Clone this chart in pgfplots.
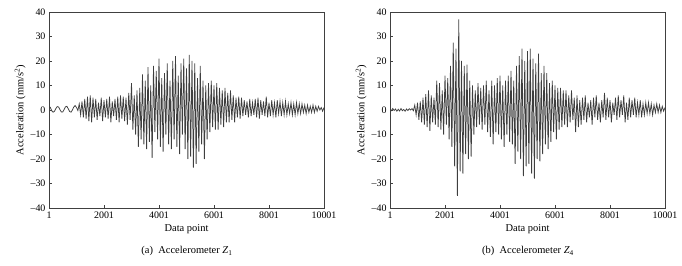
\documentclass[border=0pt]{standalone}
\usepackage{pgfplots}
\pgfplotsset{compat=1.18}
\usepackage{fontspec}
\setmainfont{Liberation Serif}
\definecolor{sig}{RGB}{62,62,62}
\begin{document}
\begin{tikzpicture}
\useasboundingbox (0bp,0bp) rectangle (682bp,266bp);
\pgfplotsset{
  myax/.style={
    scale only axis, width=275bp, height=196bp,
    xmin=1, xmax=10001, ymin=-40, ymax=40,
    xtick={1,2001,4001,6001,8001,10001},
    xticklabels={1,2001,4001,6001,8001,10001},
    scaled x ticks=false,
    ytick={-40,-30,-20,-10,0,10,20,30,40},
    yticklabels={--40,--30,--20,--10,0,10,20,30,40},
    tick align=inside, tick pos=left,
    major tick length=3bp,
    axis line style={black!75, line width=0.6pt},
    tick style={black!75, line width=0.5pt},
    tick label style={font=\fontsize{10}{12}\selectfont},
    label style={font=\fontsize{10.5}{12}\selectfont},
    xlabel={Data point},
    ylabel={Acceleration (mm/s\textsuperscript{2})},
    xlabel style={yshift=1bp},
    ylabel style={yshift=-2bp},
    clip=true,
  }
}
\begin{axis}[myax, at={(49bp,58bp)}, anchor=south west]
\addplot[sig, line width=0.75pt] coordinates {
(1,1.5)(51,1.0)(101,-0.3)(151,-0.9)(201,-0.5)(251,0.6)(301,1.4)(351,1.2)(401,0.1)(451,-0.8)(501,-0.8)(551,0.2)(601,1.3)(651,1.5)(701,0.5)(751,-0.6)(801,-0.9)(851,0.0)(901,1.2)(951,1.8)(1001,1.0)(1051,-0.2)
(1101,2.5)(1151,-2)(1201,3.5)(1251,-3)(1301,4.5)(1351,-3.5)(1401,5.5)(1451,-4.5)(1501,6)(1551,-5)
(1601,5)(1651,-3)(1701,4.5)(1751,-4)(1801,3)(1851,-2.5)(1901,5)(1951,-4.5)(2001,4)(2051,-3)
(2101,4.5)(2151,-3.5)(2201,5.5)(2251,-5)(2301,3.5)(2351,-2.5)(2401,4.5)(2451,-4)(2501,5.5)(2551,-5)
(2601,6)(2651,-3.5)(2701,5.5)(2751,-4.5)(2801,5)(2851,-6)(2901,7)(2951,-4)(3001,11)(3051,-8)
(3101,6)(3151,-10)(3201,8)(3251,-15)(3301,9)(3351,-12)(3401,14.5)(3451,-14)(3501,12)(3551,-16)
(3601,17.5)(3651,-13)(3701,10)(3751,-19.5)(3801,18)(3851,-9)(3901,16)(3951,-12)(4001,21)(4051,-15)
(4101,13)(4151,-17)(4201,15)(4251,-10)(4301,19)(4351,-14)(4401,12)(4451,-16)(4501,20)(4551,-12)
(4601,22)(4651,-15)(4701,14)(4751,-18)(4801,19)(4851,-10)(4901,21)(4951,-16)(5001,17)(5051,-20)
(5101,22.5)(5151,-19)(5201,20)(5251,-23.5)(5301,19)(5351,-22)(5401,13)(5451,-17)(5501,18)(5551,-14)
(5601,12)(5651,-20)(5701,10)(5751,-12)(5801,11)(5851,-9)(5901,12)(5951,-7)(6001,10)(6051,-8)
(6101,11)(6151,-8)(6201,9)(6251,-6)(6301,8)(6351,-7)(6401,9)(6451,-5)(6501,7)(6551,-5)
(6601,8)(6651,-4)(6701,6)(6751,-5)(6801,5)(6851,-3)(6901,5.5)(6951,-3.5)(7001,5)(7051,-2.5)
(7101,4)(7151,-2)(7201,3.5)(7251,-3)(7301,4.5)(7351,-2.5)(7401,3)(7451,-2)(7501,4.5)(7551,-3)
(7601,5)(7651,-3.5)(7701,4)(7751,-2)(7801,3.5)(7851,-2.5)(7901,5.5)(7951,-3)(8001,3)(8051,-2.5)
(8101,4)(8151,-2)(8201,3)(8251,-3)(8301,4)(8351,-1.5)(8401,3.5)(8451,-2.5)(8501,3)(8551,-2)
(8601,3.5)(8651,-2)(8701,2.5)(8751,-1.5)(8801,3)(8851,-2)(8901,2.5)(8951,-2)(9001,3)(9051,-1.5)
(9101,2.5)(9151,-1.5)(9201,2.5)(9251,-1)(9301,2)(9351,-1.5)(9401,2)(9451,-1)(9501,1.5)(9551,-1)
(9601,2)(9651,-1)(9701,1.5)(9751,-0.5)(9801,1.5)(9851,0)(9901,1)(9951,-0.5)(10001,1)
};
\end{axis}
\begin{axis}[myax, at={(390bp,58bp)}, anchor=south west]
\addplot[sig, line width=0.75pt] coordinates {
(1,0.5)(51,-0.3)(101,0.6)(151,-0.2)(201,0.4)(251,-0.5)(301,0.3)(351,-0.4)(401,0.6)(451,-0.3)(501,0.2)(551,-0.5)(601,0.4)(651,-0.2)(701,0.5)(751,0.0)(801,0.6)(851,-0.3)
(901,2)(951,-2)(1001,3)(1051,-4)(1101,3.5)(1151,-5)(1201,5)(1251,-6)(1301,6.5)(1351,-7)
(1401,8)(1451,-8.5)(1501,6)(1551,-5)(1601,5)(1651,-6)(1701,12)(1751,-7)(1801,11)(1851,-8)
(1901,8)(1951,-10)(2001,14)(2051,-6)(2101,13)(2151,-12)(2201,18)(2251,-15)(2301,27.5)(2351,-23)
(2401,25)(2451,-35)(2501,37)(2551,-25)(2601,20)(2651,-26)(2701,18)(2751,-18)(2801,18.5)(2851,-20)
(2901,12)(2951,-19)(3001,10)(3051,-10)(3101,8)(3151,-7)(3201,11)(3251,-6)(3301,9)(3351,-8)
(3401,10)(3451,-6)(3501,12)(3551,-9)(3601,8)(3651,-11)(3701,12)(3751,-14)(3801,10)(3851,-9)
(3901,13)(3951,-10)(4001,14)(4051,-12)(4101,10)(4151,-15)(4201,12)(4251,-10)(4301,14)(4351,-13)
(4401,16)(4451,-14)(4501,12)(4551,-22)(4601,18)(4651,-17)(4701,22)(4751,-20)(4801,25)(4851,-27)
(4901,20)(4951,-23)(5001,24)(5051,-22)(5101,25)(5151,-26)(5201,21)(5251,-28)(5301,19)(5351,-20)
(5401,23)(5451,-21)(5501,15)(5551,-18)(5601,18)(5651,-14)(5701,15)(5751,-16)(5801,11)(5851,-13)
(5901,12)(5951,-9)(6001,10)(6051,-12)(6101,9)(6151,-8)(6201,9)(6251,-7)(6301,8)(6351,-6)
(6401,8)(6451,-7)(6501,6)(6551,-5)(6601,8)(6651,-4)(6701,5)(6751,-9)(6801,6)(6851,-7)
(6901,4)(6951,-6)(7001,5)(7051,-4)(7101,6)(7151,-5)(7201,3)(7251,-3)(7301,4)(7351,-6)
(7401,5)(7451,-3)(7501,6)(7551,-4)(7601,3)(7651,-5)(7701,4)(7751,-3)(7801,7)(7851,-4)
(7901,5)(7951,-3)(8001,4)(8051,-5)(8101,3)(8151,-2)(8201,5)(8251,-4)(8301,6)(8351,-3)
(8401,4)(8451,-2)(8501,6)(8551,-5)(8601,3)(8651,-4)(8701,5)(8751,-3)(8801,4)(8851,-2)
(8901,5)(8951,-3)(9001,3)(9051,-2)(9101,4)(9151,-3)(9201,2.5)(9251,-2)(9301,3)(9351,-1.5)
(9401,3)(9451,-1.5)(9501,2.5)(9551,-2)(9601,2)(9651,-1)(9701,2.5)(9751,-1)(9801,2)(9851,-1)
(9901,1.5)(9951,-0.5)(10001,1)
};
\end{axis}
\node[font=\fontsize{10.5}{12}\selectfont] at (187bp,15bp) {(a)\enspace Accelerometer \textit{Z}\textsubscript{1}};
\node[font=\fontsize{10.5}{12}\selectfont] at (528bp,15bp) {(b)\enspace Accelerometer \textit{Z}\textsubscript{4}};
\end{tikzpicture}
\end{document}
